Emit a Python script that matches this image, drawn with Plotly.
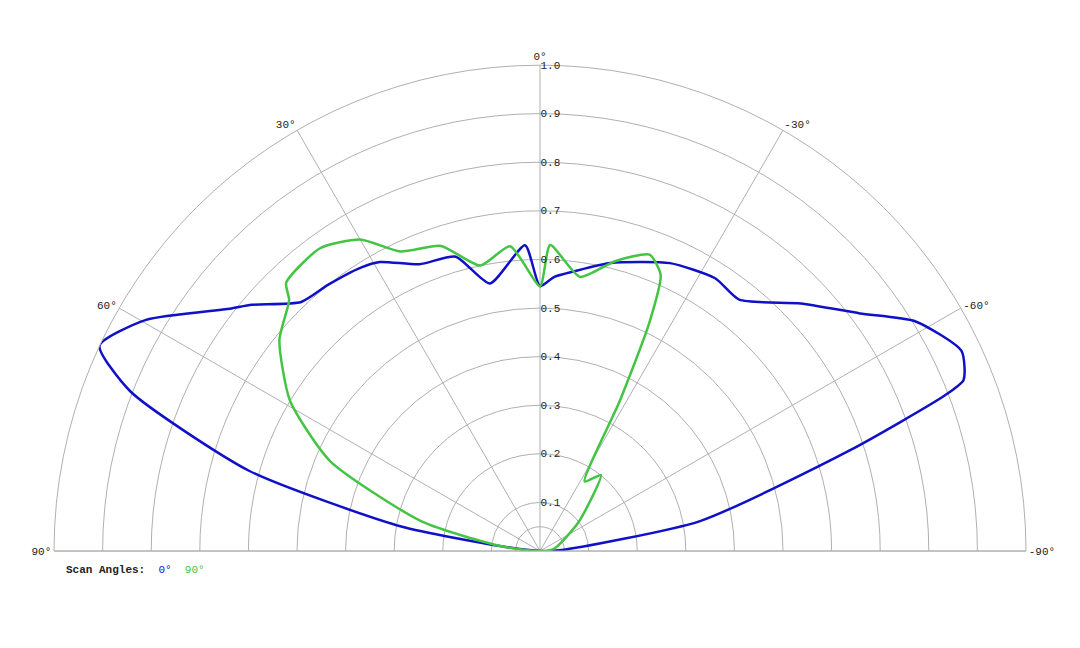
import plotly.graph_objects as go

blue_theta = [90, 83, 80, 74.6, 68.7, 65, 59.6, 52, 49.5, 43.8, 38.4, 32.3, 29, 22.8, 16, 10.6, 2.8, 0, -3, -7, -13.7, -24.3, -32.7, -38.4, -46.5, -53.4, -58.5, -64.6, -68, -69, -72, -79.4, -88, -90]
blue_r =     [0.0, 0.08, 0.29, 0.62, 0.905, 1.0, 0.94, 0.81, 0.78, 0.71, 0.70, 0.69, 0.68, 0.64, 0.63, 0.56, 0.63, 0.545, 0.565, 0.58, 0.61, 0.65, 0.667, 0.66, 0.74, 0.82, 0.905, 0.96, 0.94, 0.89, 0.67, 0.335, 0.04, 0.0]

green_theta = [90, 83, 76, 66.8, 59, 51, 45, 43.4, 36, 30, 25, 18, 11.8, 5.6, 0, -1.9, -8.3, -14.5, -20.3, -23.6, -25.6, -28, -32.7, -38.7, -53, -80, -90]
green_r =     [0.0, 0.08, 0.25, 0.47, 0.60, 0.69, 0.73, 0.76, 0.77, 0.74, 0.68, 0.66, 0.60, 0.63, 0.545, 0.63, 0.57, 0.616, 0.65, 0.62, 0.52, 0.35, 0.17, 0.20, 0.10, 0.03, 0.0]

ang_ticks = [90, 60, 30, 0, -30, -60, -90]
ang_text = ["90°", "60°", "30°", "0°", "-30°", "-60°", "-90°"]
rad_ticks = [0.05, 0.1, 0.2, 0.3, 0.4, 0.5, 0.6, 0.7, 0.8, 0.9, 1.0]
rad_text = ["", "0.1", "0.2", "0.3", "0.4", "0.5", "0.6", "0.7", "0.8", "0.9", "1.0"]

mono = "Liberation Mono"
fig = go.Figure()
fig.add_trace(go.Scatterpolar(r=blue_r, theta=blue_theta, mode="lines",
                              line=dict(color="#1010c8", width=2.5, shape="spline", smoothing=0.6), name="0°"))
fig.add_trace(go.Scatterpolar(r=green_r, theta=green_theta, mode="lines",
                              line=dict(color="#44c444", width=2.5, shape="spline", smoothing=0.6), name="90°"))
fig.update_layout(
    width=1080, height=648, margin=dict(l=0, r=0, t=0, b=0),
    paper_bgcolor="white", showlegend=False,
    polar=dict(
        domain=dict(x=[0.0426, 0.9426], y=[0.162, 0.912]),
        sector=[0, 180], bgcolor="white",
        angularaxis=dict(rotation=90, direction="counterclockwise",
                         tickvals=ang_ticks, ticktext=ang_text,
                         gridcolor="#b0b0b0", linecolor="#b0b0b0", ticks="",
                         tickfont=dict(family=mono, size=11, color="#222")),
        radialaxis=dict(range=[0, 1.0], tickvals=rad_ticks, ticktext=rad_text,
                        angle=90, tickangle=90, showline=False, ticks="",
                        gridcolor="#b0b0b0",
                        tickfont=dict(family=mono, size=11, color="#222")),
    ),
    annotations=[dict(x=56/1080, y=1-562/648, xref="paper", yref="paper", showarrow=False,
                      xanchor="left", yanchor="middle",
                      text="<b>Scan Angles:</b>  <span style='color:#1010c8'>0°</span>  <span style='color:#44c444'>90°</span>",
                      font=dict(family=mono, size=11, color="#222"))],
)
fig.write_html("out.html")
